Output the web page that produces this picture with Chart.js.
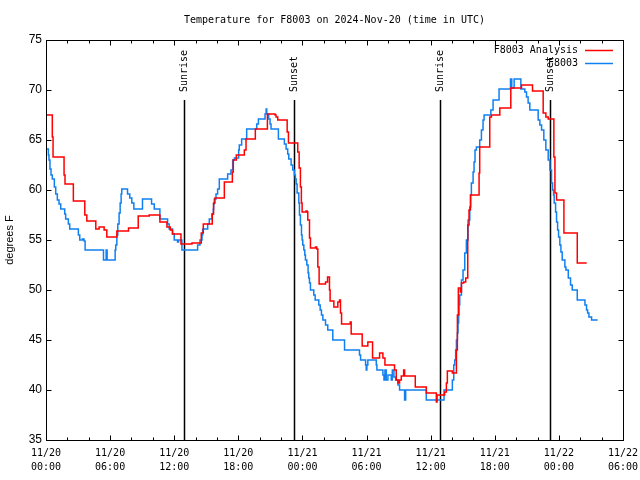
<!DOCTYPE html>
<html>
<head>
<meta charset="utf-8">
<script src="https://cdn.jsdelivr.net/npm/chart.js@4.4.0/dist/chart.umd.min.js"></script>
<style>
  html, body { margin: 0; padding: 0; background: #fff; }
</style>
</head>
<body>
<canvas id="chart" width="640" height="480"></canvas>
<script>
// hours since 2024-11-20 00:00 UTC
const analysisHours = [0, 0.59, 0.66, 1.69, 1.78, 2.56, 3.63, 3.82, 4.66, 4.97, 5.44, 5.69, 6.63, 7.72, 8.63, 9.66,
  10.66, 11.32, 11.63, 11.84, 12.63, 13.66, 14.53, 14.72, 15.56, 15.68, 15.81, 16.69, 17.44, 17.53, 17.81, 18.56,
  18.72, 19.59, 20.72, 21.44, 21.53, 21.69, 22.57, 22.69, 23.56, 23.69, 23.81, 23.9, 23.97, 24.34, 24.44, 24.5,
  24.66, 24.75, 25.22, 25.34, 25.44, 25.56, 26.16, 26.35, 26.53, 26.59, 26.94, 27.31, 27.47, 27.56, 27.66, 28.47,
  28.56, 29.59, 30.12, 30.56, 31.22, 31.53, 31.72, 32.62, 32.78, 32.94, 33.09, 33.25, 33.47, 33.56, 34.56, 35.59,
  36.53, 36.6, 37.31, 37.47, 37.56, 38.03, 38.41, 38.5, 38.59, 38.78, 38.88, 39.09, 39.28, 39.47, 39.59, 39.72,
  40.53, 40.59, 41.53, 41.69, 42.47, 43.5, 44.5, 45.53, 46.53, 46.78, 47.0, 47.53, 47.63, 47.78, 48.47, 49.72, 50.6];
const analysisTemps = [67.5, 65.3, 63.3, 61.5, 60.6, 58.9, 57.5, 56.9, 56.1, 56.3, 56.0, 55.3, 55.9, 56.2, 57.4, 57.5,
  56.8, 56.3, 56.0, 55.6, 54.6, 54.7, 55.7, 56.6, 57.6, 58.7, 59.2, 60.8, 61.8, 63.0, 63.5, 64.0,
  65.1, 66.1, 67.6, 67.5, 67.3, 67.0, 65.8, 64.7, 63.8, 62.2, 60.3, 58.7, 57.8, 57.9, 57.8, 57.0,
  55.2, 54.2, 54.3, 54.1, 52.3, 50.6, 50.8, 51.3, 50.0, 48.9, 48.3, 48.8, 49.0, 47.7, 46.6, 46.8,
  45.6, 44.4, 44.8, 43.2, 43.7, 43.2, 42.5, 42.0, 41.0, 40.7, 41.0, 41.4, 42.0, 41.4, 40.3, 39.7,
  38.8, 39.5, 39.8, 40.7, 41.9, 41.7, 44.0, 47.5, 50.2, 49.8, 50.7, 50.8, 51.2, 56.5, 58.0, 59.5,
  61.7, 64.3, 67.3, 67.5, 68.2, 70.2, 70.5, 69.9, 67.7, 67.3, 67.1, 63.3, 59.7, 59.0, 55.7, 52.7, 52.7];

const obsHours = [0, 0.22, 0.28, 0.37, 0.47, 0.59, 0.78, 0.91, 1.06, 1.22, 1.38, 1.75, 1.84, 2.09, 2.22, 3.03,
  3.16, 3.41, 3.56, 3.66, 5.38, 5.63, 5.72, 6.47, 6.53, 6.63, 6.72, 6.84, 6.94, 7.03, 7.09, 7.63,
  7.84, 8.03, 8.22, 9.03, 9.88, 10.13, 10.66, 11.38, 11.53, 11.84, 12.0, 12.31, 12.41, 12.72, 14.19, 14.41,
  14.6, 14.66, 15.13, 15.28, 15.53, 15.66, 15.69, 15.75, 15.91, 16.06, 16.22, 17.0, 17.31, 17.47, 17.63, 18.03,
  18.09, 18.31, 18.78, 19.72, 19.88, 20.5, 20.6, 20.66, 20.84, 20.97, 21.06, 21.75, 22.31, 22.47, 22.62, 22.72,
  22.94, 23.09, 23.25, 23.34, 23.41, 23.5, 23.66, 23.72, 23.81, 23.91, 23.97, 24.03, 24.13, 24.22, 24.28, 24.41,
  24.53, 24.59, 24.66, 24.75, 25.06, 25.19, 25.53, 25.66, 25.78, 25.91, 26.16, 26.37, 26.84, 27.94, 29.34, 29.44,
  29.91, 29.97, 30.03, 30.12, 30.91, 30.97, 31.53, 31.63, 31.72, 31.84, 32.0, 32.31, 32.41, 32.56, 32.72, 32.94,
  33.09, 33.56, 33.66, 35.59, 37.25, 38.03, 38.16, 38.25, 38.34, 38.41, 38.5, 38.56, 38.62, 38.66, 38.72, 38.88,
  39.03, 39.19, 39.34, 39.5, 39.66, 39.75, 39.81, 39.97, 40.06, 40.15, 40.28, 40.59, 40.75, 40.9, 41.0, 41.63,
  41.84, 42.4, 43.47, 43.59, 43.81, 44.44, 44.81, 44.97, 45.12, 45.28, 46.06, 46.22, 46.38, 46.59, 46.78, 47.0,
  47.16, 47.31, 47.41, 47.5, 47.56, 47.69, 47.78, 47.88, 47.97, 48.09, 48.19, 48.31, 48.56, 48.66, 48.88, 49.09,
  49.25, 49.72, 50.44, 50.59, 50.69, 50.81, 51.06, 51.63];
const obsTemps = [64.1, 63.5, 63.0, 62.1, 61.5, 61.1, 60.3, 59.6, 59.0, 58.6, 58.1, 57.6, 57.1, 56.6, 56.1, 55.5,
  55.0, 55.1, 54.9, 54.0, 53.0, 54.0, 53.0, 54.0, 54.5, 55.5, 56.6, 57.7, 58.7, 59.6, 60.1, 59.6,
  59.2, 58.7, 58.1, 59.1, 58.6, 58.1, 57.1, 56.6, 56.1, 55.6, 55.0, 54.8, 55.0, 54.0, 54.5, 55.0,
  55.5, 56.1, 56.6, 57.1, 57.6, 58.1, 58.6, 59.1, 59.6, 60.1, 61.1, 61.6, 62.0, 63.0, 63.2, 64.0,
  64.5, 65.1, 66.1, 66.6, 67.1, 67.6, 68.1, 67.6, 67.1, 66.6, 66.1, 65.1, 64.6, 64.1, 63.6, 63.1,
  62.5, 62.0, 61.5, 61.1, 60.6, 59.7, 58.7, 57.5, 56.5, 55.5, 55.0, 54.5, 54.0, 53.5, 53.0, 52.5,
  51.7, 51.2, 50.7, 50.0, 49.5, 49.0, 48.5, 48.0, 47.5, 47.0, 46.5, 46.0, 45.0, 44.0, 43.5, 43.0,
  42.5, 42.0, 42.5, 43.0, 42.5, 42.0, 41.5, 41.0, 42.0, 41.0, 41.5, 41.0, 42.0, 41.3, 41.0, 40.5,
  40.0, 39.0, 40.0, 39.0, 40.0, 41.0, 42.5, 43.0, 44.0, 45.0, 45.7, 46.7, 47.5, 48.5, 49.5, 51.0,
  52.0, 53.7, 55.0, 57.0, 58.3, 59.5, 60.7, 61.8, 62.8, 64.0, 64.3, 65.0, 66.0, 67.0, 67.5, 68.0,
  69.0, 70.1, 71.1, 70.2, 71.1, 70.1, 69.8, 69.3, 68.7, 68.0, 67.0, 66.5, 66.0, 65.0, 64.0, 63.0,
  62.0, 60.7, 60.0, 59.5, 58.7, 57.8, 56.8, 56.0, 55.3, 54.5, 53.8, 53.0, 52.3, 52.0, 51.2, 50.5,
  50.0, 49.0, 48.5, 48.0, 47.7, 47.3, 47.0, 47.0];

const sunHours = [12.9, 23.2, 36.88, 47.18];
const sunLabels = ['Sunrise', 'Sunset', 'Sunrise', 'Sunset'];

const tickDates = ['11/20', '11/20', '11/20', '11/20', '11/21', '11/21', '11/21', '11/21', '11/22', '11/22'];
const tickTimes = ['00:00', '06:00', '12:00', '18:00', '00:00', '06:00', '12:00', '18:00', '00:00', '06:00'];

const seriesNames = ['F8003 Analysis', 'F8003'];
const titleText = 'Temperature for F8003 on 2024-Nov-20 (time in UTC)';

const mono = '"DejaVu Sans Mono", monospace';
const sans = '"Liberation Sans", Arial, sans-serif';

const toPoints = (xs, ys) => xs.map((h, i) => ({ x: h, y: ys[i] }));

// gnuplot look: frame, inward ticks, sunrise/sunset markers, legend, title
const gnuplotBits = {
  id: 'gnuplotBits',
  beforeDatasetsDraw(chart) {
    const { ctx, chartArea: a, scales: { x } } = chart;
    const h = a.bottom - a.top;
    ctx.save();
    ctx.strokeStyle = '#000';
    ctx.lineWidth = 1.5;
    ctx.fillStyle = '#000';
    ctx.font = '10px ' + mono;
    sunHours.forEach((hr, i) => {
      const px = Math.round(x.getPixelForValue(hr)) + 0.5;
      ctx.beginPath();
      ctx.moveTo(px, a.bottom);
      ctx.lineTo(px, a.top + 0.15 * h);
      ctx.stroke();
      ctx.save();
      ctx.translate(px, a.top + 0.13 * h);
      ctx.rotate(-Math.PI / 2);
      ctx.textAlign = 'left';
      ctx.textBaseline = 'middle';
      ctx.fillText(sunLabels[i], 0, 0);
      ctx.restore();
    });
    ctx.restore();
  },
  afterDraw(chart) {
    const { ctx, chartArea: a, scales: { x, y } } = chart;
    ctx.save();
    ctx.strokeStyle = '#000';
    ctx.lineWidth = 1;
    const L = a.left + 0.5, R = a.right + 0.5, T = a.top + 0.5, B = a.bottom + 0.5;
    ctx.strokeRect(L, T, R - L, B - T);
    ctx.beginPath();
    // x ticks (major every 6h, minor every 2h), bottom and top
    for (let v = x.min; v <= x.max; v += 2) {
      const px = Math.round(x.getPixelForValue(v)) + 0.5;
      const len = v % 6 === 0 ? 5 : 3;
      ctx.moveTo(px, B); ctx.lineTo(px, B - len);
      ctx.moveTo(px, T); ctx.lineTo(px, T + len);
    }
    // y ticks, left and right
    y.ticks.forEach(t => {
      const py = Math.round(y.getPixelForValue(t.value)) + 0.5;
      ctx.moveTo(L, py); ctx.lineTo(L + 5, py);
      ctx.moveTo(R, py); ctx.lineTo(R - 5, py);
    });
    ctx.stroke();

    // title
    ctx.fillStyle = '#000';
    ctx.font = '10px ' + mono;
    ctx.textAlign = 'center';
    ctx.textBaseline = 'middle';
    ctx.fillText(titleText, (a.left + a.right) / 2, 20);

    // legend, top right
    ctx.textAlign = 'right';
    chart.data.datasets.forEach((ds, i) => {
      const ly = a.top + 10 + i * 13;
      ctx.fillStyle = '#000';
      ctx.fillText(ds.label, a.right - 45, ly);
      ctx.strokeStyle = ds.borderColor;
      ctx.lineWidth = 1.5;
      ctx.beginPath();
      ctx.moveTo(a.right - 38, ly + 0.5);
      ctx.lineTo(a.right - 10, ly + 0.5);
      ctx.stroke();
    });
    ctx.restore();
  }
};

new Chart(document.getElementById('chart'), {
  type: 'line',
  data: {
    datasets: [
      {
        label: seriesNames[0],
        data: toPoints(analysisHours, analysisTemps),
        borderColor: '#ff0000',
        borderWidth: 1.5,
        stepped: 'before',
        pointRadius: 0,
        fill: false
      },
      {
        label: seriesNames[1],
        data: toPoints(obsHours, obsTemps),
        borderColor: '#1080f0',
        borderWidth: 1.5,
        stepped: 'before',
        pointRadius: 0,
        fill: false
      }
    ]
  },
  options: {
    responsive: false,
    animation: false,
    layout: { padding: { top: 40, right: 17, left: 0, bottom: 0 } },
    plugins: {
      legend: { display: false },
      title: { display: false },
      tooltip: { enabled: false }
    },
    scales: {
      x: {
        type: 'linear',
        min: 0,
        max: 54,
        grid: { display: false, drawTicks: false },
        border: { display: false },
        ticks: {
          stepSize: 6,
          autoSkip: false,
          maxRotation: 0,
          padding: 6,
          color: '#000',
          font: { family: mono, size: 10, lineHeight: 1.4 },
          callback: (v) => {
            const i = Math.round(v / 6);
            return [tickDates[i], tickTimes[i]];
          }
        },
        afterFit: (s) => { s.height = 40; s.paddingLeft = 0; s.paddingRight = 0; }
      },
      y: {
        min: 35,
        max: 75,
        grid: { display: false, drawTicks: false },
        border: { display: false },
        ticks: {
          stepSize: 5,
          padding: 4,
          color: '#000',
          font: { family: sans, size: 12 }
        },
        title: {
          display: true,
          text: 'degrees F',
          color: '#000',
          padding: { top: 3, bottom: 0 },
          font: { family: sans, size: 11 }
        },
        afterFit: (s) => { s.width = 46; s.paddingTop = 0; s.paddingBottom = 0; }
      }
    }
  },
  plugins: [gnuplotBits]
});
</script>
</body>
</html>
